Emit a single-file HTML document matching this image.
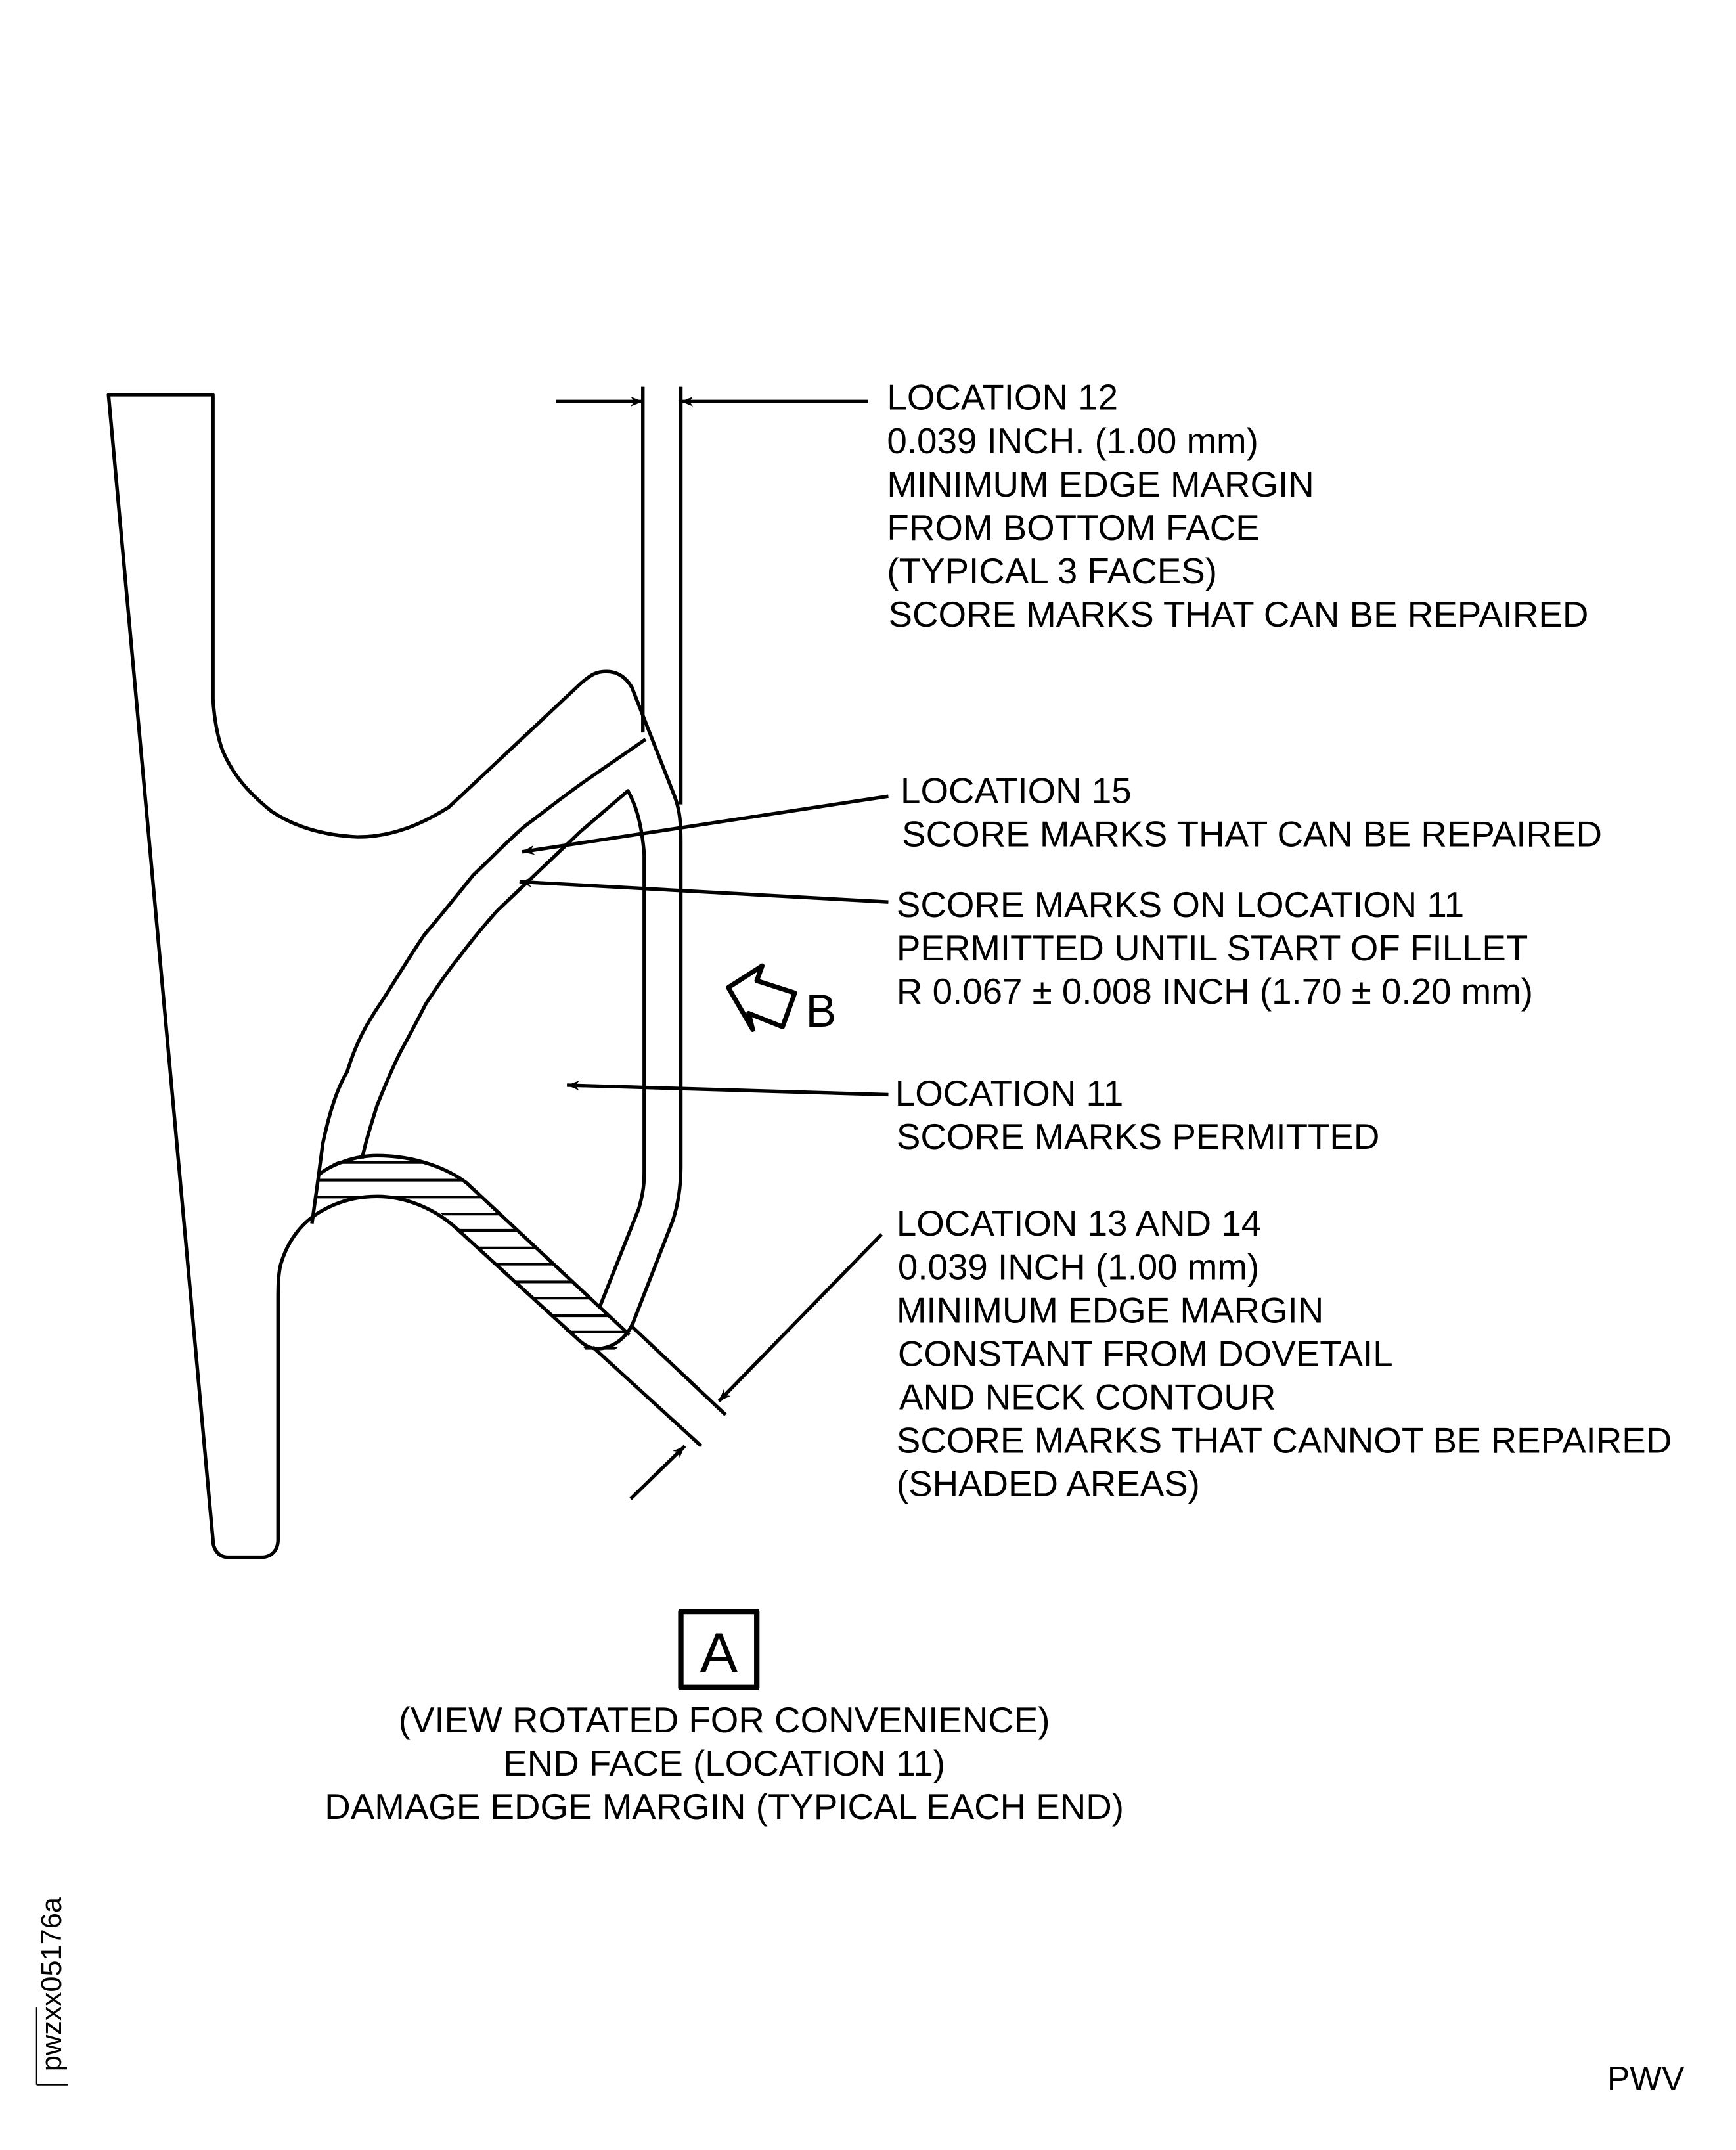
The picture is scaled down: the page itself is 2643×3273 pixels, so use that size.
<!DOCTYPE html>
<html><head><meta charset="utf-8"><style>
html,body{margin:0;padding:0;background:#fff}
svg{display:block}
text{font-family:"Liberation Sans",sans-serif;fill:#000}
</style></head><body>
<svg width="2643" height="3273" viewBox="0 0 1280 1585" xmlns="http://www.w3.org/2000/svg">
<defs>
<marker id="ah" viewBox="0 0 10 10" refX="10" refY="5" markerWidth="26" markerHeight="9" markerUnits="userSpaceOnUse" orient="auto">
<path d="M0,1 L10,5 L0,9 L3,5 Z" fill="#000"/>
</marker>
<clipPath id="hc">
<path d="M230,902 L235,866 C240,860 246,857 253,855 C262,853 270,852 278,852 C286,852 293,852 300,853 C308,855 316,857 323,859 C330,862 337,867 344,872 L464,984 C458,992 450,999 442,1001 C438,1002 434,999 431,994 L337,906 C330,897 322,892 314,888 C302,883 290,882 278,882 C268,882 258,883 248,886 C240,890 233,896 230,902 Z"/>
</clipPath>
</defs>
<g fill="none" stroke="#000" stroke-width="2.6" stroke-linejoin="round">
<path d="M157,1135 L80,291 L157,291 L157,515 C158,530 160,542 164,553 C172,572 184,585 200,598 C218,610 240,616 264,617 C290,617 312,607 331,595 L428,504 C436,497 440,495 447,495 C456,495 462,500 466,507 L497,586 C501,596 502,605 502,620 L502,860 C502,875 500,888 496,900 L468,972 C464,984 455,992 444,994 C437,995 433,993 428,989 L337,906 C322,892 300,882 278,882 C262,882 248,886 235,894 C222,902 212,915 207,932 C205,940 205,950 205,957 L205,1135 C205,1143 200,1148 193,1148 L168,1148 C161,1148 157,1142 157,1135 Z"/>
<path d="M230,902 L235,866 C245,858 262,852 278,852 C300,852 325,858 344,872 L464,984"/>
<g clip-path="url(#hc)" stroke-width="2">
<path d="M200,857H520M200,870H520M200,882.5H520M200,895H520M200,907H520M200,920H520M200,932H520M200,945H520M200,957H520M200,970H520M200,982H520M200,994H520"/>
</g>
<path d="M235,866 L238,843 C244,815 250,800 256,790 C262,770 270,755 281,739 C292,722 302,705 313,689 C325,675 337,660 349,645 C362,633 374,620 387,609 C403,597 418,585 434,574 L476,545"/>
<path d="M267,854 C270,840 274,828 278,815 C284,800 289,788 295,776 C302,763 308,752 314,740 C322,728 330,716 339,705 C348,693 357,682 367,671 L428,613 L463,583 C468,592 473,605 475,630 L475,865 C475,876 473,884 471,891 L442,964"/>
<path d="M474,285 L474,540 M502,285 L502,593"/>
<path d="M410,296 L474,296" marker-end="url(#ah)"/>
<path d="M640,296 L502,296" marker-end="url(#ah)"/>
<path d="M655,587 L385,628" marker-end="url(#ah)"/>
<path d="M655,665 L383,650" marker-end="url(#ah)"/>
<path d="M655,807 L418,800" marker-end="url(#ah)"/>
<path d="M466,978 L535,1043 M437,993 L517,1066"/>
<path d="M650,910 L530,1033" marker-end="url(#ah)"/>
<path d="M465,1105 L505,1066" marker-end="url(#ah)"/>
<path d="M537,728 L562,712 L558,723 L586,732 L577,757 L552,747 L555,759 Z" stroke-width="3.5"/>
<rect x="502" y="1188" width="56" height="56" stroke-width="4"/>
<path d="M27,1480 L27,1537 M27,1537 L50,1537" stroke-width="1"/>
</g>
<g font-size="26.5">
<text x="654" y="302">LOCATION 12</text>
<text x="654" y="334">0.039 INCH. (1.00 mm)</text>
<text x="654" y="366">MINIMUM EDGE MARGIN</text>
<text x="654" y="398">FROM BOTTOM FACE</text>
<text x="654" y="430">(TYPICAL 3 FACES)</text>
<text x="655" y="462">SCORE MARKS THAT CAN BE REPAIRED</text>
<text x="664" y="592">LOCATION 15</text>
<text x="665" y="624">SCORE MARKS THAT CAN BE REPAIRED</text>
<text x="661" y="676">SCORE MARKS ON LOCATION 11</text>
<text x="661" y="708">PERMITTED UNTIL START OF FILLET</text>
<text x="661" y="740">R 0.067 ± 0.008 INCH (1.70 ± 0.20 mm)</text>
<text x="594" y="757" font-size="34">B</text>
<text x="660" y="815">LOCATION 11</text>
<text x="661" y="847">SCORE MARKS PERMITTED</text>
<text x="661" y="911">LOCATION 13 AND 14</text>
<text x="662" y="943">0.039 INCH (1.00 mm)</text>
<text x="661" y="975">MINIMUM EDGE MARGIN</text>
<text x="662" y="1007">CONSTANT FROM DOVETAIL</text>
<text x="663" y="1039">AND NECK CONTOUR</text>
<text x="661" y="1071">SCORE MARKS THAT CANNOT BE REPAIRED</text>
<text x="661" y="1103">(SHADED AREAS)</text>
<text x="530" y="1233" font-size="42" text-anchor="middle">A</text>
<text x="534" y="1277" text-anchor="middle">(VIEW ROTATED FOR CONVENIENCE)</text>
<text x="534" y="1309" text-anchor="middle">END FACE (LOCATION 11)</text>
<text x="534" y="1341" text-anchor="middle">DAMAGE EDGE MARGIN (TYPICAL EACH END)</text>
<text x="1185" y="1541" font-size="25">PWV</text>
<text transform="translate(45,1527) rotate(-90)" font-size="21">pwzxx05176a</text>
</g>
</svg>
</body></html>
